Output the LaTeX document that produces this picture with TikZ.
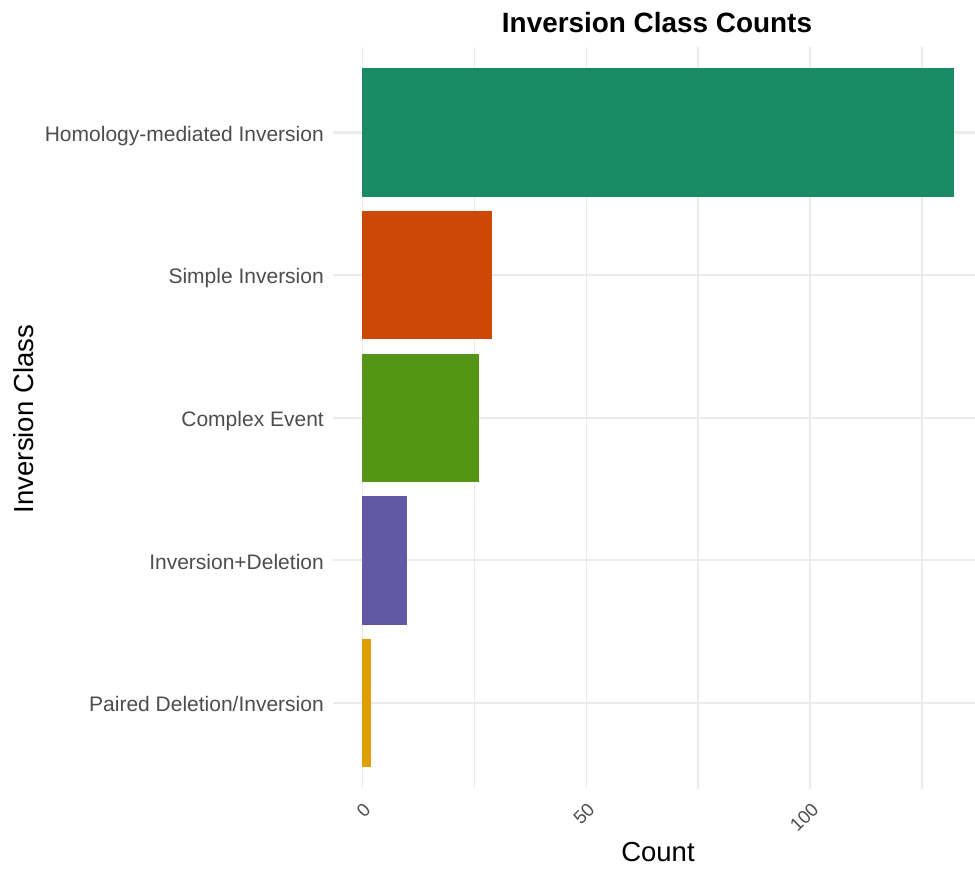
\documentclass[tikz,border=0pt]{standalone}
\usepackage{fontspec}
\setmainfont{Liberation Sans}
\definecolor{gridgray}{HTML}{EBEBEB}
\definecolor{labgray}{HTML}{4D4D4D}
\definecolor{barhom}{HTML}{1B8B65}
\definecolor{barsimple}{HTML}{CD4705}
\definecolor{barcomplex}{HTML}{549515}
\definecolor{barinvdel}{HTML}{6258A4}
\definecolor{barpaired}{HTML}{E09D04}
\begin{document}
\begin{tikzpicture}[
  x=1pt, y=-1pt,
  vgrid/.style={draw=gridgray, line width=1.6pt},
  hgrid/.style={draw=gridgray, line width=2.2pt},
  ylab/.style={anchor=base east, inner sep=0pt, text=labgray, font=\fontsize{21}{25}\selectfont},
  xlab/.style={anchor=base east, inner sep=0pt, rotate=45, text=labgray, font=\fontsize{18.5}{22}\selectfont},
  axtitle/.style={anchor=base, inner sep=0pt, font=\fontsize{27.5}{33}\selectfont}
]
\useasboundingbox (0,0) rectangle (975,871);

% Grid lines
\draw[vgrid] (362.3,47) -- (362.3,789);
\draw[vgrid] (474.3,47) -- (474.3,789);
\draw[vgrid] (586.3,47) -- (586.3,789);
\draw[vgrid] (698.2,47) -- (698.2,789);
\draw[vgrid] (810.2,47) -- (810.2,789);
\draw[vgrid] (922.2,47) -- (922.2,789);
\draw[hgrid] (333,132.5) -- (975,132.5);
\draw[hgrid] (333,275.1) -- (975,275.1);
\draw[hgrid] (333,417.7) -- (975,417.7);
\draw[hgrid] (333,560.3) -- (975,560.3);
\draw[hgrid] (333,702.9) -- (975,702.9);

% Bars
\fill[barhom] (362.3,68.3) rectangle (953.5,196.7);
\fill[barsimple] (362.3,210.9) rectangle (492.2,339.3);
\fill[barcomplex] (362.3,353.5) rectangle (478.8,481.9);
\fill[barinvdel] (362.3,496.1) rectangle (407.1,624.5);
\fill[barpaired] (362.3,638.7) rectangle (371.3,767.1);

% Category labels
\node[ylab] (hom) at (324,141.2) {Homology-mediated Inversion};
\node[ylab] (simple) at (324,283.8) {Simple Inversion};
\node[ylab] (complex) at (324,426.4) {Complex Event};
\node[ylab] (invdel) at (324,569.0) {Inversion+Deletion};
\node[ylab] (paired) at (324,711.6) {Paired Deletion/Inversion};

% Count ticks
\node[xlab] (tick0) at (371.8,811) {0};
\node[xlab] (tick50) at (595.8,811) {50};
\node[xlab] (tick100) at (819.7,811) {100};

% Titles
\node[axtitle] (xtitle) at (658,861.7) {Count};
\node[axtitle, rotate=90] (ytitle) at (33.5,419) {Inversion Class};
\node[axtitle, font=\bfseries\fontsize{27.9}{33}\selectfont] (title) at (657,32) {Inversion Class Counts};

\end{tikzpicture}
\end{document}
